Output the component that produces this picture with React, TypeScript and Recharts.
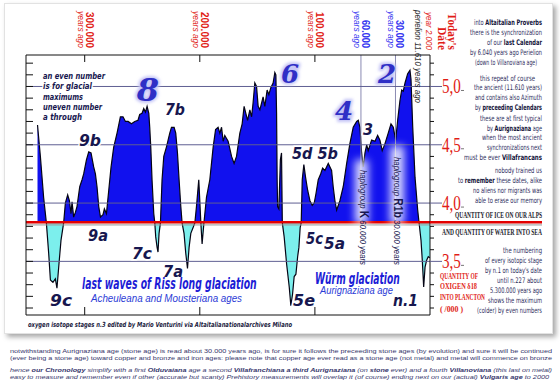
import React from "react";
import { AreaChart, Area, XAxis, YAxis, ReferenceLine } from "recharts";

const ages = [
  341.0, 338.5, 335.7, 333.3, 331.3, 329.8, 327.6, 325.5, 324.1, 322.6,
  320.6, 318.3, 316.8, 314.8, 313.3, 311.9, 311.0, 309.6, 308.1, 306.7,
  304.3, 302.3, 300.9, 298.5, 296.5, 294.5, 292.2, 290.7, 289.3, 287.8,
  286.3, 284.1, 282.9, 281.1, 279.1, 277.1, 274.8, 271.9, 269.0, 266.7,
  264.6, 262.3, 259.4, 256.5, 253.7, 252.2, 250.2, 248.7, 247.2, 245.8,
  244.3, 243.5, 242.6, 241.5, 240.0, 239.1, 238.3, 237.1, 236.3, 235.4,
  234.2, 232.8, 231.3, 229.0, 226.1, 224.6, 222.3, 220.9, 219.4, 218.0,
  216.5, 215.4, 213.7, 212.2, 210.7, 209.3, 207.8, 205.8, 204.3, 202.9,
  200.9, 200.0, 199.1, 198.0, 196.5, 194.2, 191.3, 188.4, 186.3, 184.1,
  182.6, 181.1, 179.7, 178.3, 175.4, 172.4, 170.2, 168.1, 165.2, 163.2,
  161.5, 160.0, 158.5, 156.5, 155.0, 153.7, 152.2, 150.7, 149.3, 147.8,
  146.3, 145.0, 143.5, 141.5, 140.0, 138.3, 136.3, 134.8, 133.9, 133.3,
  132.8, 132.4, 131.3, 130.0, 129.0, 128.3, 126.7, 124.6, 122.3, 120.9,
  119.4, 118.0, 116.5, 115.0, 113.9, 112.8, 111.9, 111.0, 109.6, 108.1,
  106.3, 104.3, 102.3, 100.6, 99.1, 97.1, 95.0, 93.3, 91.3, 88.4,
  85.5, 84.1, 82.6, 81.1, 78.3, 75.4, 72.4, 69.6, 66.7, 63.7,
  62.3, 60.9, 59.4, 58.0, 56.5, 55.0, 53.7, 50.7, 47.8, 45.5,
  43.5, 41.5, 39.1, 36.3, 33.9, 31.9, 29.8, 28.1, 26.1, 24.6,
  23.2, 21.7, 19.4, 17.4, 16.5, 15.0, 13.0, 10.7, 9.6, 7.8,
  6.7, 5.5, 4.3, 2.9, 1.5, 0.0,
];
const d18O = [
  4.67, 4.40, 4.05, 3.83, 3.57, 3.34, 3.32, 3.35, 3.27, 3.45,
  3.68, 3.83, 4.00, 4.07, 4.02, 3.91, 4.01, 3.88, 3.92, 3.97,
  4.14, 4.20, 4.25, 4.37, 4.44, 4.43, 4.31, 4.25, 4.14, 3.97,
  3.88, 3.90, 3.95, 3.91, 4.11, 4.31, 4.48, 4.60, 4.74, 4.74,
  4.70, 4.70, 4.68, 4.70, 4.71, 4.76, 4.77, 4.81, 4.78, 4.83,
  4.77, 4.65, 4.48, 4.20, 3.91, 3.83, 3.71, 3.62, 3.58, 3.74,
  3.83, 4.20, 4.40, 4.48, 4.60, 4.65, 4.65, 4.60, 4.43, 4.20,
  3.97, 3.83, 3.74, 3.57, 3.44, 3.62, 3.74, 3.79, 3.83, 3.97,
  4.20, 4.02, 3.83, 3.65, 3.82, 4.05, 4.20, 4.48, 4.63, 4.65,
  4.60, 4.65, 4.53, 4.58, 4.53, 4.40, 4.34, 4.40, 4.60, 4.68,
  4.83, 4.77, 4.71, 4.80, 4.74, 4.86, 5.03, 5.00, 4.83, 4.80,
  4.86, 4.91, 4.83, 4.97, 4.93, 4.99, 5.03, 5.12, 5.10, 4.77,
  4.20, 3.97, 3.95, 4.37, 4.43, 3.83, 3.71, 3.48, 3.28, 3.12,
  3.22, 3.37, 3.39, 3.54, 3.62, 3.79, 3.83, 4.20, 4.33, 4.22,
  4.11, 4.02, 3.98, 4.00, 4.08, 4.20, 4.25, 4.30, 4.28, 4.34,
  4.28, 4.14, 4.02, 3.94, 4.02, 4.14, 4.34, 4.51, 4.65, 4.70,
  4.71, 4.65, 4.43, 4.31, 4.43, 4.50, 4.45, 4.54, 4.53, 4.58,
  4.54, 4.45, 4.51, 4.60, 4.68, 4.65, 4.54, 4.71, 4.88, 4.97,
  4.96, 5.03, 5.11, 5.14, 5.06, 4.65, 4.22, 3.94, 3.84, 3.68,
  3.51, 3.28, 3.45, 3.51, 3.54, 3.53,
];

const ICE_LINE = 3.835; // ice above, sea water below
const topTicks = [300, 200, 100, 60, 30];
const topTickLabels = ["300.000", "200.000", "100.000", "60.000", "30.000"];
const bottomTicks = [300, 200, 100];
const majorLevels = [3.5, 4.0, 4.5, 5.0];
const minorLevels = [
  3.1, 3.2, 3.3, 3.4, 3.5, 3.6, 3.7, 3.8, 3.9, 4.0, 4.1,
  4.2, 4.3, 4.4, 4.5, 4.6, 4.7, 4.8, 4.9, 5.0, 5.1, 5.2,
];
const stageNames = ["9b", "7b", "9a", "7c", "7a", "9c", "5d 5b", "5c", "5a", "5e", "3", "n.1"];
const glacialNames = ["8", "6", "4", "2"];

const data = ages.map((age, i) => ({ age, d18: d18O[i] }));
const dMax = Math.max(...d18O);
const dMin = Math.min(...d18O);
const split = (dMax - ICE_LINE) / (dMax - dMin);

const BLUE = "#1111ee";
const CYAN = "#7cefed";
const INK = "#17174f";
const GRID = "#5f5f92";
const RED = "#e11d17";
const NARROW = "'Liberation Sans Narrow', 'DejaVu Sans Condensed', 'Liberation Sans', Arial, sans-serif";
const SANS = "'Liberation Sans', Arial, sans-serif";
const SERIF = "'Liberation Serif', 'DejaVu Serif', serif";
const TAG = "'DejaVu Sans', Verdana, sans-serif";

const near = (a: number, b: number) => Math.abs(a - b) < 1e-6;

const LeftTick = (p: any) => (
  <line x1={p.x} y1={p.y} x2={p.x + 7} y2={p.y} stroke="#111" strokeWidth={1} />
);

const RightTick = (p: any) => {
  const { x, y } = p;
  const v = p.payload.value;
  if (near(v, ICE_LINE)) {
    return (
      <g>
        <line x1={x} y1={y + 2.5} x2={x + 112} y2={y + 2.5} stroke="#9a9a9a" strokeWidth={2} opacity={0.6} />
        <line x1={x} y1={y} x2={x + 112} y2={y} stroke="#e30000" strokeWidth={2.4} />
      </g>
    );
  }
  if (!majorLevels.some((m) => near(m, v))) {
    return <line x1={x} y1={y} x2={x + 4} y2={y} stroke="#111" />;
  }
  return (
    <g>
      <line x1={x} y1={y} x2={x + 12} y2={y} stroke={GRID} />
      <text transform={`translate(${x + 12},${y + 7}) scale(0.72,1)`} fontFamily={SERIF} fontSize={21} fill={RED}>
        {v.toFixed(1).replace(".", ",")}
      </text>
      <line x1={x + 31} y1={y + 4} x2={x + 34} y2={y + 4} stroke="#777" />
    </g>
  );
};

const TopTick = (p: any) => {
  const { x, y } = p;
  const v = p.payload.value;
  const recent = v < 100;
  const color = recent ? "#3535f0" : RED;
  const label = topTickLabels[topTicks.indexOf(v)];
  const len = recent ? 28 : 36;
  return (
    <g>
      {!recent && <line x1={x} y1={y} x2={x} y2={y + 7} stroke="#111" />}
      <g transform={`translate(${x + 1},48) rotate(90)`}>
        <text x={-len} fontFamily={SANS} fontWeight={700} fontSize={10} fill={color}
          textLength={len} lengthAdjust="spacingAndGlyphs">{label}</text>
        <text x={-37} y={8} fontFamily={SANS} fontStyle="italic" fontSize={9} fill={color}
          textLength={37} lengthAdjust="spacingAndGlyphs">years ago</text>
      </g>
    </g>
  );
};

const BottomTick = (p: any) => (
  <line x1={p.x} y1={p.y} x2={p.x} y2={p.y - 8} stroke="#111" />
);

// annotation layout: [x, baseline, width]
const stagePos = [
  [79, 146, 22], [165, 114.5, 20], [88, 241, 20], [132, 259, 20], [163, 277, 20], [50, 306, 22],
  [292, 159, 46], [306, 244, 17], [324, 249, 21], [293, 306, 22], [363, 134.5, 10], [393, 306, 25],
];
const glacialPos = [[148, 101, 32], [290, 83, 26], [344, 120, 26], [387, 83, 26]];

const noteLines: [string, boolean][][] = [
  [["into ", false], ["Altaitalian Proverbs", true]],
  [["there is the synchronization", false]],
  [["of our ", false], ["last Calendar", true]],
  [["by 6.040 years ago Perielion", false]],
  [["(down to Villanoviana age)", false]],
  [["this repeat of course", false]],
  [["the ancient (11.610 years)", false]],
  [["and contains also Azimuth", false]],
  [["by ", false], ["preceeding Calendars", true]],
  [["these are at first typical", false]],
  [["by ", false], ["Aurignaziana", true], [" age", false]],
  [["when the most ancient", false]],
  [["synchronizations next", false]],
  [["must be ever ", false], ["Villafrancans", true]],
  [["nobody trained us", false]],
  [["to ", false], ["remember", true], [" these dates, alike", false]],
  [["no aliens nor migrants was", false]],
  [["able to erase our memory", false]],
  [["the numbering", false]],
  [["of every isotopic stage", false]],
  [["by n.1 on today's date", false]],
  [["until n.227 about", false]],
  [["5.300.000 years ago", false]],
  [["shows the maximum", false]],
  [["(colder) by even numbers", false]],
];
// [right edge, baseline, width]
const notePos = [
  [542, 25.5, 68], [542, 35.5, 72], [542, 45.5, 55], [542, 55.5, 72], [537, 65, 62],
  [535, 81, 55], [542, 90.5, 68], [542, 100.5, 67], [542, 110.5, 67],
  [542, 121, 62], [542, 130.7, 55], [542, 140.5, 60], [542, 150.3, 55], [542, 160.3, 78],
  [542, 173, 47], [542, 183, 84], [542, 193, 69], [542, 203, 67],
  [542, 253, 39], [542, 263, 57], [542, 273, 57], [542, 283, 45], [542, 293, 52], [542, 303, 54], [542, 313.5, 65],
];
const NOTE_SQUEEZE = 0.8;
const CAPS_SQUEEZE = 0.66;

const legendLines = ["an even number", "is for glacial", "maximums", "uneven number", "a through"];
const legendPos = [[79, 62], [89.3, 49], [99.6, 40], [109.9, 59], [120.2, 39]];

const oxygenLines = ["QUANTITY OF", "OXIGEN \u03b418", "INTO PLANCTON", "( /000 )"];
const oxygenPos = [[279, 38], [289.5, 37], [300, 45], [312.5, 23]];

function Overlay() {
  const halo = { stroke: "#fff", strokeWidth: 3, paintOrder: "stroke" as const };
  return (
    <svg width={560} height={387} style={{ position: "absolute", left: 0, top: 0, pointerEvents: "none" }}>
      <defs>
        <filter id="haze" x="-100%" y="-50%" width="300%" height="200%">
          <feGaussianBlur stdDeviation="4.5" />
        </filter>
        <filter id="glow" x="-50%" y="-50%" width="200%" height="200%">
          <feGaussianBlur stdDeviation="1.8" />
        </filter>
      </defs>

      {/* haplogroup markers */}
      <rect x={355} y={160} width={13} height={64} fill="#fff" opacity={0.85} filter="url(#haze)" />
      <rect x={390} y={146} width={14} height={78} fill="#fff" opacity={0.85} filter="url(#haze)" />
      <g transform="translate(360,170) rotate(90)">
        <text fontFamily={SANS} fontSize={9} fontStyle="italic" fill={INK} textLength={95} lengthAdjust="spacingAndGlyphs">
          haplogroup <tspan fontSize={12} fontWeight={700} fontStyle="normal">K</tspan> 60.000 years
        </text>
      </g>
      <g transform="translate(394,157) rotate(90)">
        <text fontFamily={SANS} fontSize={9} fontStyle="italic" fill={INK} textLength={108} lengthAdjust="spacingAndGlyphs">
          haplogroup <tspan fontSize={12} fontWeight={700} fontStyle="normal">R1b</tspan> 30.000 years
        </text>
      </g>

      {/* top right dates */}
      <g transform="translate(415,10) rotate(90)">
        <text fontFamily={SANS} fontSize={9} fontStyle="italic" fill="#222" textLength={93} lengthAdjust="spacingAndGlyphs">
          perielion 11.610 years ago
        </text>
      </g>
      <g transform="translate(426,12) rotate(90)">
        <text fontFamily={SANS} fontSize={9} fontStyle="italic" fill={RED} textLength={38} lengthAdjust="spacingAndGlyphs">
          year 2.000
        </text>
      </g>
      <g transform="translate(448,13) rotate(90)">
        <text fontFamily={SERIF} fontSize={12} fontWeight={700} fill={RED} textLength={37} lengthAdjust="spacingAndGlyphs">
          Today's
        </text>
      </g>
      <g transform="translate(438,27) rotate(90)">
        <text fontFamily={SERIF} fontSize={12} fontWeight={700} fill={RED} textLength={23} lengthAdjust="spacingAndGlyphs">
          Date
        </text>
      </g>

      {/* legend note */}
      {legendLines.map((t, i) => (
        <text key={t} x={43} y={legendPos[i][0]} fontFamily={NARROW} fontSize={9.2} fontWeight={700} fontStyle="italic"
          fill={INK} textLength={legendPos[i][1]} lengthAdjust="spacingAndGlyphs" {...halo}>{t}</text>
      ))}

      {/* glacial maximum numbers */}
      {glacialNames.map((t, i) => {
        const [x, y, s] = glacialPos[i];
        return (
          <g key={t}>
            <text x={x} y={y} textAnchor="middle" fontFamily="'DejaVu Serif', serif" fontStyle="italic" fontWeight={700}
              fontSize={s} fill="#c4c4f6" stroke="#c4c4f6" strokeWidth={4} filter="url(#glow)">{t}</text>
            <text x={x} y={y} textAnchor="middle" fontFamily="'DejaVu Serif', serif" fontStyle="italic" fontWeight={700}
              fontSize={s} fill="#2f2fc6">{t}</text>
          </g>
        );
      })}

      {/* isotope stages */}
      {stageNames.map((t, i) => {
        const [x, y, w] = stagePos[i];
        return (
          <text key={t} x={x} y={y} fontFamily={TAG} fontStyle="italic" fontWeight={700} fontSize={t === "3" ? 15 : 16}
            fill={INK} textLength={w} lengthAdjust="spacingAndGlyphs" {...halo}>{t}</text>
        );
      })}

      {/* glaciation names */}
      <g transform="translate(82,0) scale(0.75,1)">
        <text x={0} y={289.5} fontFamily={NARROW} fontSize={15} fontWeight={700} fontStyle="italic" fill="#1c1cd6"
          textLength={233} lengthAdjust="spacingAndGlyphs">last waves of Riss long glaciation</text>
      </g>
      <text x={91} y={302} fontFamily={SANS} fontSize={10} fontStyle="italic" fill="#2b3bd6"
        textLength={151} lengthAdjust="spacingAndGlyphs">Acheuleana and Mousteriana ages</text>
      <g transform="translate(315,0) scale(0.75,1)">
        <text x={0} y={284} fontFamily={NARROW} fontSize={15} fontWeight={700} fontStyle="italic" fill="#1c1cd6"
          textLength={113} lengthAdjust="spacingAndGlyphs">Würm glaciation</text>
      </g>
      <text x={320} y={294} fontFamily={SANS} fontSize={10} fontStyle="italic" fill="#2b3bd6"
        textLength={73} lengthAdjust="spacingAndGlyphs">Aurignaziana age</text>

      <text x={28} y={326.5} fontFamily={NARROW} fontSize={7} fontWeight={700} fontStyle="italic" fill="#1a1a40"
        textLength={264} lengthAdjust="spacingAndGlyphs">
        oxygen isotope stages n.3 edited by Mario Venturini via Altaitalianationalarchives Milano
      </text>

      {/* right hand notes, squeezed horizontally about the right margin */}
      <g transform={`translate(542,0) scale(${NOTE_SQUEEZE},1) translate(-542,0)`}>
        {noteLines.map((parts, i) => {
          const [r, y, w] = notePos[i];
          const left = 542 + (r - w - 542) / NOTE_SQUEEZE;
          return (
            <text key={i} x={left} y={y} fontFamily={NARROW} fontSize={7.7} fill="#2c2c5c"
              textLength={w / NOTE_SQUEEZE} lengthAdjust="spacingAndGlyphs">
              {parts.map(([s, b], j) => (
                <tspan key={j} fontWeight={b ? 700 : 400} fill={b ? "#111138" : undefined}>{s}</tspan>
              ))}
            </text>
          );
        })}
      </g>
      <g transform={`translate(542,0) scale(${CAPS_SQUEEZE},1) translate(-542,0)`}>
        <text x={542 - 87 / CAPS_SQUEEZE} y={218} fontFamily={SERIF} fontSize={8} fontWeight={700} fill="#1b1b2b"
          textLength={87 / CAPS_SQUEEZE} lengthAdjust="spacingAndGlyphs">QUANTITY OF ICE ON OUR ALPS</text>
        <text x={542 - 100 / CAPS_SQUEEZE} y={235} fontFamily={SERIF} fontSize={8} fontWeight={700} fill="#1b1b2b"
          textLength={100 / CAPS_SQUEEZE} lengthAdjust="spacingAndGlyphs">AND QUANTITY OF WATER INTO SEA</text>
      </g>
      <g transform={`translate(440,0) scale(0.8,1) translate(-440,0)`}>
        {oxygenLines.map((t, i) => (
          <text key={t} x={440} y={oxygenPos[i][0]} fontFamily={SERIF} fontSize={9} fontWeight={700} fill={RED}
            textLength={oxygenPos[i][1] / 0.8} lengthAdjust="spacingAndGlyphs">{t}</text>
        ))}
      </g>

      {/* footnotes */}
      <g fontFamily={SANS} fontSize={6.2} fill="#35356b">
        <text x={10} y={352.5} textLength={542} lengthAdjust="spacingAndGlyphs">
          notwithstanding Aurignaziana age (stone age) is read about 30.000 years ago, is for sure it follows the preceeding stone ages (by evolution) and sure it will be continued
        </text>
        <text x={10} y={359.5} textLength={542} lengthAdjust="spacingAndGlyphs">
          (ever being a stone age) toward copper and bronze and iron ages: please note that copper age ever read as a stone age (not metal) and metal will commence on bronze
        </text>
        <text x={10} y={371.5} fontStyle="italic" textLength={542} lengthAdjust="spacingAndGlyphs">
          hence <tspan fontWeight={700}>our Chronology</tspan> simplify with a first <tspan fontWeight={700}>Olduvaiana</tspan> age a second{" "}
          <tspan fontWeight={700}>Villafranchiana a third Aurignaziana</tspan> (on <tspan fontWeight={700}>stone</tspan> ever) and a fourth{" "}
          <tspan fontWeight={700}>Villanoviana</tspan> (this last on metal)
        </text>
        <text x={10} y={378.5} fontStyle="italic" textLength={539} lengthAdjust="spacingAndGlyphs">
          easy to measure and remember even if other (accurate but scanty) Prehistory measurements will overlap it (of course) ending next on our (actual){" "}
          <tspan fontWeight={700}>Vulgaris age</tspan> to 2000
        </text>
      </g>
    </svg>
  );
}

export default function App() {
  return (
    <div style={{ position: "absolute", left: 0, top: 0, width: 560, height: 387, background: "#fff", overflow: "hidden" }}>
      <div style={{
        position: "absolute", left: 4, top: 3, width: 547, height: 329, background: "#fff",
        border: "1px solid #e2e2e2", boxShadow: "3px 3px 5px rgba(0,0,0,0.35)",
      }} />
      <div style={{ position: "absolute", left: 0, top: 0 }}>
        <AreaChart width={560} height={387} data={data} margin={{ top: 0, right: 0, bottom: 0, left: 0 }}>
          <defs>
            <linearGradient id="iceWater" x1="0" y1="0" x2="0" y2="1">
              <stop offset={split} stopColor={BLUE} />
              <stop offset={split} stopColor={CYAN} />
            </linearGradient>
          </defs>
          <XAxis xAxisId="t" orientation="top" type="number" dataKey="age" domain={[0, 351]} reversed
            allowDataOverflow ticks={topTicks} interval={0} tick={TopTick} tickLine={false} tickSize={0}
            tickMargin={0} height={55} axisLine={{ stroke: "#111" }} />
          <XAxis xAxisId="b" orientation="bottom" type="number" dataKey="age" domain={[0, 351]} reversed
            allowDataOverflow ticks={bottomTicks} interval={0} tick={BottomTick} tickLine={false} tickSize={0}
            tickMargin={0} height={72} axisLine={{ stroke: "#111" }} />
          <YAxis yAxisId="l" orientation="left" type="number" domain={[3.04, 5.27]} allowDataOverflow
            ticks={minorLevels} interval={0} tick={LeftTick} tickLine={false} tickSize={0} tickMargin={0}
            width={26} axisLine={{ stroke: "#111" }} />
          <YAxis yAxisId="r" orientation="right" type="number" domain={[3.04, 5.27]} allowDataOverflow
            ticks={[...minorLevels, ICE_LINE]} interval={0} tick={RightTick} tickLine={false} tickSize={0}
            tickMargin={0} width={130} axisLine={{ stroke: "#111" }} />
          <ReferenceLine xAxisId="t" yAxisId="l" segment={[{ x: 60, y: ICE_LINE }, { x: 60, y: 5.27 }]} stroke="#8a8ab2" />
          <ReferenceLine xAxisId="t" yAxisId="l" segment={[{ x: 30, y: ICE_LINE }, { x: 30, y: 5.27 }]} stroke="#8a8ab2" />
          <Area xAxisId="t" yAxisId="l" type="linear" dataKey="d18" baseValue={ICE_LINE} stroke="#050515"
            strokeWidth={1.2} fill="url(#iceWater)" fillOpacity={1} dot={false} activeDot={false}
            isAnimationActive={false} />
          {majorLevels.map((v) => (
            <ReferenceLine key={v} xAxisId="t" yAxisId="l" y={v} stroke={GRID} strokeWidth={1} />
          ))}
          <ReferenceLine xAxisId="t" yAxisId="l" y={ICE_LINE - 0.022} stroke="#9a9a9a" strokeWidth={2} strokeOpacity={0.6} />
          <ReferenceLine xAxisId="t" yAxisId="l" y={ICE_LINE} stroke="#e30000" strokeWidth={2.4} />
        </AreaChart>
      </div>
      <Overlay />
    </div>
  );
}
